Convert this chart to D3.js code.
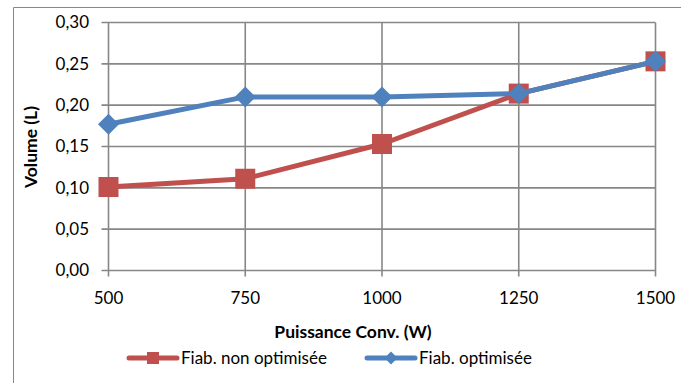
<!DOCTYPE html>
<html><head><meta charset="utf-8">
<script src="https://cdn.jsdelivr.net/npm/d3@7"></script>
<style>body{margin:0;background:#fff}svg{display:block;font-family:Lato,"Open Sans",sans-serif}</style>
</head><body>
<svg id="c" width="681" height="383"></svg>
<script>
const categories = [500, 750, 1000, 1250, 1500];
const nonOptimisee = [0.101, 0.111, 0.153, 0.214, 0.253];
const optimisee = [0.177, 0.210, 0.210, 0.214, 0.253];
const yTicks = [0, 0.05, 0.10, 0.15, 0.20, 0.25, 0.30];
const seriesNames = ["Fiab. non optimisée", "Fiab. optimisée"];
const colors = ["#C0504D", "#4F81BD"];
const xTitle = "Puissance Conv. (W)";
const yTitle = "Volume (L)";

const svg = d3.select("#c");
const L = 108.5, R = 655.5, T = 22.5, B = 270.5;
const x = d3.scalePoint().domain(categories).range([L, R]);
const y = d3.scaleLinear().domain([0, 0.30]).range([B, T]);
const grid = "#878787";
const fmt = d => d3.format(".2f")(d).replace(".", ",");
const FS = 17;

// outer chart border
svg.append("path").attr("d", "M13.5,383 V7.5 H681").attr("fill","none").attr("stroke", grid).attr("stroke-width", 1);

// horizontal grid
svg.append("g").selectAll("line").data(yTicks).join("line")
  .attr("x1", L - 7).attr("x2", R).attr("y1", d => y(d)).attr("y2", d => y(d))
  .attr("stroke", grid).attr("stroke-width", 1.6);
// vertical grid
svg.append("g").selectAll("line").data(categories).join("line")
  .attr("x1", d => x(d)).attr("x2", d => x(d)).attr("y1", T).attr("y2", B + 6)
  .attr("stroke", grid).attr("stroke-width", 1.6);

// y labels
svg.append("g").selectAll("text").data(yTicks).join("text")
  .attr("x", 89).attr("y", d => y(d)).attr("dy", "0.35em").attr("text-anchor", "end")
  .attr("font-size", FS).attr("fill", "#000").text(fmt);
// x labels
svg.append("g").selectAll("text").data(categories).join("text")
  .attr("x", d => x(d)).attr("y", 298).attr("dy", "0.35em").attr("text-anchor", "middle")
  .attr("font-size", FS).attr("fill", "#000").text(d => d);

// titles
svg.append("text").attr("x", 353).attr("y", 332).attr("dy", "0.35em").attr("text-anchor", "middle")
  .attr("font-size", 17.5).attr("font-weight", "bold").text(xTitle);
svg.append("text").attr("transform", "translate(31,147) rotate(-90)").attr("dy", "0.35em")
  .attr("text-anchor", "middle").attr("font-size", 17.5).attr("font-weight", "bold").text(yTitle);

const line = d3.line().x((d, i) => x(categories[i])).y(d => y(d));
const seriesData = [nonOptimisee, optimisee];
seriesData.forEach((vals, si) => {
  const g = svg.append("g");
  g.append("path").datum(vals).attr("d", line).attr("fill", "none")
    .attr("stroke", colors[si]).attr("stroke-width", 5).attr("stroke-linejoin", "round").attr("stroke-linecap", "round");
  if (si === 0) {
    g.selectAll("rect").data(vals).join("rect")
      .attr("x", (d, i) => x(categories[i]) - 10).attr("y", d => y(d) - 10)
      .attr("width", 20).attr("height", 20).attr("fill", colors[si]);
  } else {
    g.selectAll("path.m").data(vals).join("path").attr("class", "m")
      .attr("d", (d, i) => { const cx = x(categories[i]), cy = y(d), r = 10.5; return `M${cx},${cy-r}L${cx+r},${cy}L${cx},${cy+r}L${cx-r},${cy}Z`; })
      .attr("fill", colors[si]);
  }
});

// legend
const legItems = [{x0: 129, x1: 177, tx: 181}, {x0: 367, x1: 415, tx: 419}];
legItems.forEach((it, i) => {
  const ly = 358;
  svg.append("line").attr("x1", it.x0).attr("x2", it.x1).attr("y1", ly).attr("y2", ly)
    .attr("stroke", colors[i]).attr("stroke-width", 5).attr("stroke-linecap", "round");
  if (i === 0) svg.append("rect").attr("x", (it.x0+it.x1)/2 - 6).attr("y", ly - 6).attr("width", 12).attr("height", 12).attr("fill", colors[i]);
  else { const cx=(it.x0+it.x1)/2, r=6.5; svg.append("path").attr("d", `M${cx},${ly-r}L${cx+r},${ly}L${cx},${ly+r}L${cx-r},${ly}Z`).attr("fill", colors[i]); }
  svg.append("text").attr("x", it.tx).attr("y", ly).attr("dy", "0.35em").attr("font-size", FS).text(seriesNames[i]);
});
</script>
</body></html>
